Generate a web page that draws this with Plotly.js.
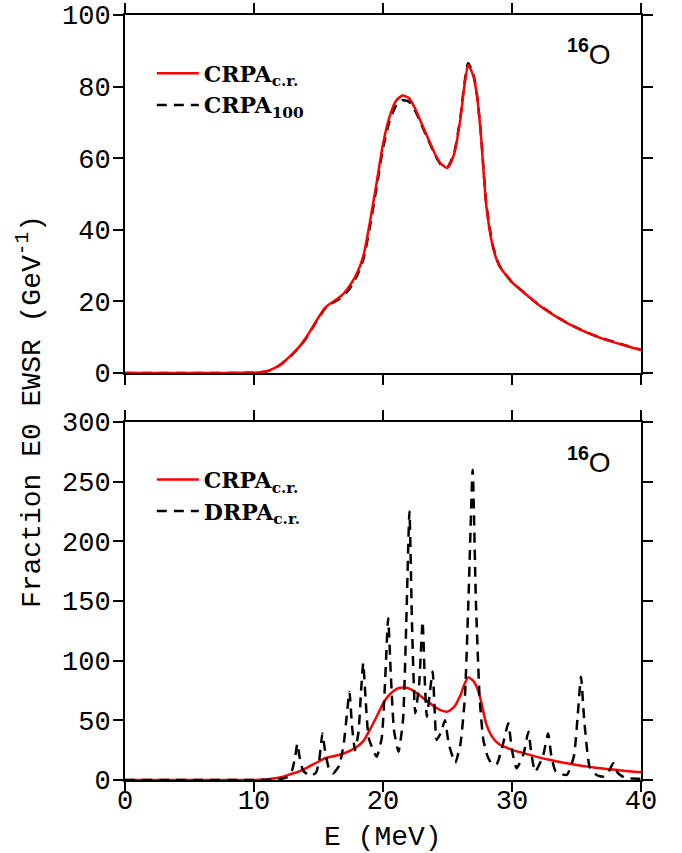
<!DOCTYPE html>
<html>
<head>
<meta charset="utf-8">
<script src="https://cdn.plot.ly/plotly-3.0.1.min.js"></script>
<style>
html,body{margin:0;padding:0;background:#fff;}
#chart{width:682px;height:853px;}
</style>
</head>
<body>
<div id="chart"></div>
<script>
// ---- Top panel / CRPA curves (energy grid in MeV) ----
const E_crpa = [0,2,4,6,8,10,10.5,11,11.5,12,12.5,13,13.5,14,14.5,15,15.5,16,16.5,17,17.5,18,18.5,19,19.5,20,20.5,21,21.5,22,22.5,23,23.5,24,24.5,25,25.5,26,26.3,26.6,27,27.3,27.6,28,28.5,29,29.5,30,31,32,33,34,35,36,37,38,39,40];
const crpa_cr = [0,0,0,0,0.02,0.1,0.2,0.5,1.2,2.2,3.7,5.4,7.3,9.7,12.6,15.5,18.2,19.6,20.8,22.4,24.8,28,33,42.5,53,64,71.5,76,77.5,76.8,73.8,69.6,65.5,61.4,58.4,57.3,61,71,80,86,83,77,66,47,35.5,30,27.5,25.3,22.2,19.2,16.7,14.5,12.6,11,9.6,8.5,7.4,6.4];
const crpa_100 = [0,0,0,0,0.02,0.1,0.2,0.5,1.2,2.2,3.6,5.3,7.2,9.5,12.4,15.3,18,19.4,20.4,21.8,24,27.3,32,41.2,51.8,62.8,70.2,74.6,76.2,75.8,73.2,69.2,65.2,61.2,58.2,57.6,61.3,71.5,80.5,86.5,83.5,77.3,66.5,47.5,35.8,30.2,27.6,25.4,22.3,19.3,16.8,14.6,12.7,11.1,9.7,8.6,7.5,6.5];

// ---- Bottom panel / discrete RPA ----
const E_drpa = [0,5,10,11,12,12.6,12.95,13.2,13.36,13.52,13.8,14.34,14.8,15.05,15.3,15.5,15.8,16.15,16.6,16.95,17.2,17.4,17.6,17.83,18.1,18.3,18.47,18.65,18.9,19.5,19.9,20.15,20.4,20.6,20.85,21.2,21.55,21.8,22.05,22.25,22.5,22.8,23.07,23.25,23.4,23.65,23.85,24.0,24.16,24.5,24.8,25.1,25.6,26.0,26.35,26.65,26.95,27.2,27.5,27.78,28.1,28.4,28.8,29.3,29.71,30.0,30.36,30.9,31.27,31.5,31.8,32.4,32.8,33.05,33.4,34.24,34.8,35.1,35.35,35.6,36.05,36.6,37.05,37.5,37.85,38.2,38.8,39.3,40];
const drpa_cr = [0,0,0.05,0.2,0.8,2.5,8,20,30.5,20,8,3.4,6,16,39,25,10,5.6,12,30,55,74,45,25,40,75,98,68,35,19.5,35,80,135.5,90,42,23.7,50,130,225,130,56,80,133,80,53,75,91,60,33.5,40,50,30,14.5,30,70,160,260,150,67,33.5,20,14,13,30,47.5,25,9.8,22,40.5,22,7,20,39,20,7,4.2,20,55,86.6,50,9.8,4,2.8,7,14,6,1.5,1.2,1];

// ---- Labels ----
const nameCR = 'CRPA<sub>c.r.</sub>';
const name100 = 'CRPA<sub>100</sub>';
const nameD = 'DRPA<sub>c.r.</sub>';
const nucleus = '<sup><b>16</b></sup>O';
const xTicks = [0,10,20,30,40];
const yTicksTop = [0,20,40,60,80,100];
const yTicksBot = [0,50,100,150,200,250,300];

const RED = '#ff0000';
const mono = 'Liberation Mono, DejaVu Sans Mono, monospace';
const legFont = {family:'DejaVu Serif, Liberation Serif, serif', size:22, color:'#000', weight:'bold'};

const traces = [
  {x:E_crpa, y:crpa_100, xaxis:'x', yaxis:'y', mode:'lines', name:name100, legend:'legend',
   line:{color:'#000', width:2.5, dash:'10px,7px', shape:'spline', smoothing:0.6}},
  {x:E_crpa, y:crpa_cr, xaxis:'x', yaxis:'y', mode:'lines', name:nameCR, legend:'legend',
   line:{color:RED, width:2.5, shape:'spline', smoothing:0.6}},
  {x:E_crpa, y:crpa_cr, xaxis:'x2', yaxis:'y2', mode:'lines', name:nameCR, legend:'legend2',
   line:{color:RED, width:2.5, shape:'spline', smoothing:0.6}},
  {x:E_drpa, y:drpa_cr, xaxis:'x2', yaxis:'y2', mode:'lines', name:nameD, legend:'legend2',
   line:{color:'#000', width:2.5, dash:'10px,7px', shape:'spline', smoothing:0.5}}
];

const axBase = {
  showline:true, linewidth:2, linecolor:'#000', mirror:'ticks',
  ticks:'outside', ticklen:10, tickwidth:2, tickcolor:'#000',
  showgrid:false, zeroline:false,
  tickfont:{family:mono, size:27, color:'#000'}
};

const layout = {
  width:682, height:853,
  margin:{l:125, r:41, t:15, b:73},
  paper_bgcolor:'#fff', plot_bgcolor:'#fff',
  showlegend:true,
  xaxis: Object.assign({}, axBase, {domain:[0,1], range:[0,40], tickvals:xTicks, showticklabels:false, anchor:'y'}),
  yaxis: Object.assign({}, axBase, {domain:[0.532,1], range:[0,100], tickvals:yTicksTop, anchor:'x', ticklabelstandoff:-3}),
  xaxis2: Object.assign({}, axBase, {domain:[0,1], range:[0,40], tickvals:xTicks, anchor:'y2', ticklabelstandoff:-15}),
  yaxis2: Object.assign({}, axBase, {domain:[0,0.468], range:[0,300], tickvals:yTicksBot, anchor:'x2', ticklabelstandoff:-3}),
  legend:{x:0.052, y:0.951, xanchor:'left', yanchor:'top', bgcolor:'rgba(0,0,0,0)',
    font:legFont, traceorder:'reversed', itemwidth:42, tracegroupgap:0},
  legend2:{x:0.052, y:0.42, xanchor:'left', yanchor:'top', bgcolor:'rgba(0,0,0,0)',
    font:legFont, itemwidth:42, tracegroupgap:0},
  annotations:[
    {text:nucleus, xref:'paper', yref:'paper', x:0.899, y:0.952, xanchor:'center', yanchor:'middle',
     showarrow:false, font:{family:'Liberation Sans, Arial, sans-serif', size:28, color:'#000'}},
    {text:nucleus, xref:'paper', yref:'paper', x:0.899, y:0.418, xanchor:'center', yanchor:'middle',
     showarrow:false, font:{family:'Liberation Sans, Arial, sans-serif', size:28, color:'#000'}},
    {text:'Fraction E0 EWSR (GeV<sup>-1</sup>)', xref:'paper', yref:'paper', x:-0.184, y:0.481,
     xanchor:'center', yanchor:'middle', textangle:-90, showarrow:false,
     font:{family:mono, size:28, color:'#000'}},
    {text:'E (MeV)', xref:'paper', yref:'paper', x:0.5, y:-0.075, xanchor:'center', yanchor:'middle',
     showarrow:false, font:{family:mono, size:28, color:'#000'}}
  ]
};

Plotly.newPlot('chart', traces, layout, {staticPlot:true, displayModeBar:false});
</script>
</body>
</html>
